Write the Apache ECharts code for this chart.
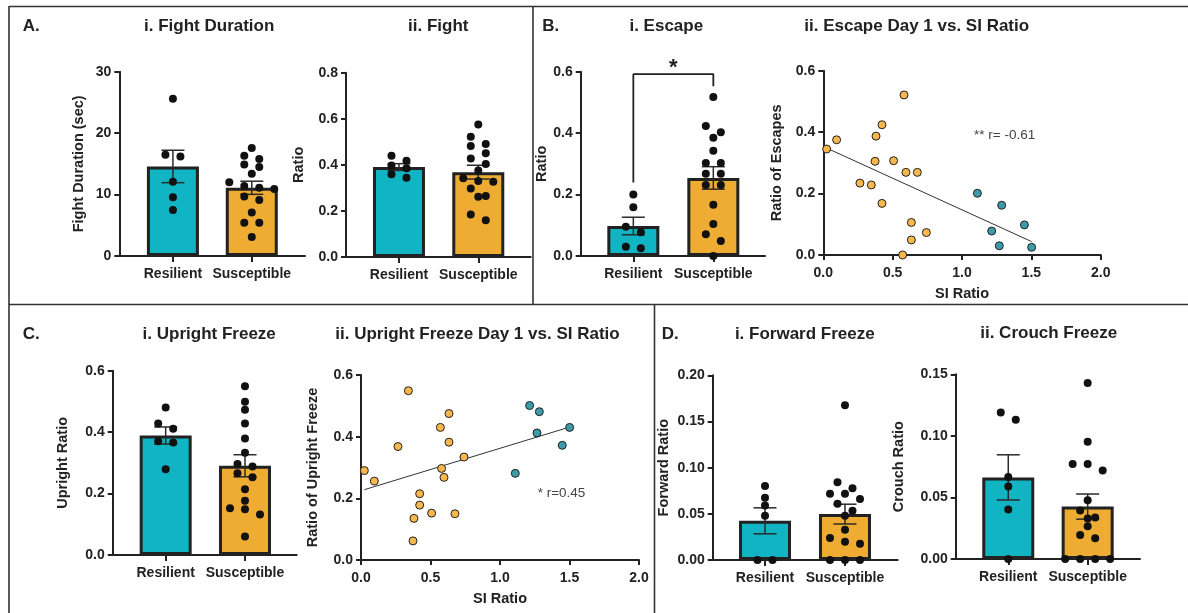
<!DOCTYPE html>
<html><head><meta charset="utf-8">
<script src="https://cdn.jsdelivr.net/npm/echarts@6/dist/echarts.min.js"></script>
<style>html,body{margin:0;padding:0;background:#fff}#c{width:1188px;height:613px}</style>
</head><body><div id="c"></div>
<script>
// ---------------- DATA ----------------
const groups = ['Resilient', 'Susceptible'];

const fightDurRes = [25.6, 16.5, 16.2, 12.1, 9.55, 7.5];
const fightDurSus = [17.6, 16.3, 15.8, 14.9, 14.5, 13.4, 12.0, 11.4, 11.1, 10.9, 9.7, 9.1, 7.1, 5.4, 5.4, 3.1];

const fightRes = [0.440, 0.418, 0.397, 0.385, 0.359, 0.344];
const fightSus = [0.575, 0.522, 0.491, 0.482, 0.450, 0.428, 0.404, 0.375, 0.342, 0.330, 0.327, 0.297, 0.265, 0.262, 0.184, 0.159];

const escapeRes = [0.200, 0.159, 0.095, 0.077, 0.030, 0.025];
const escapeSus = [0.518, 0.423, 0.403, 0.385, 0.343, 0.303, 0.303, 0.268, 0.268, 0.231, 0.231, 0.167, 0.104, 0.071, 0.049, 0.0];

const uprightRes = [0.480, 0.428, 0.411, 0.370, 0.366, 0.279];
const uprightSus = [0.549, 0.499, 0.473, 0.428, 0.379, 0.333, 0.296, 0.288, 0.266, 0.253, 0.214, 0.177, 0.152, 0.149, 0.132, 0.060];

const forwardRes = [0.080, 0.0675, 0.059, 0.048, 0, 0];
const forwardSus = [0.1675, 0.0841, 0.0776, 0.0718, 0.0718, 0.0661, 0.061, 0.0534, 0.048, 0.0328, 0.0238, 0.0198, 0.0177, 0, 0, 0];

const crouchRes = [0.119, 0.113, 0.0666, 0.0588, 0.0403, 0];
const crouchSus = [0.143, 0.0953, 0.0772, 0.0772, 0.0718, 0.0477, 0.0393, 0.0338, 0.0328, 0.0265, 0.0195, 0.0168, 0, 0, 0, 0];

// Escape Day 1 vs SI ratio
const escSiSus   = [0.024, 0.096, 0.582, 0.423, 0.380, 0.373, 0.507, 0.596, 0.678, 0.264, 0.346, 0.423, 0.635, 0.743, 0.635, 0.572];
const escDay1Sus = [0.345, 0.375, 0.521, 0.424, 0.387, 0.305, 0.307, 0.269, 0.269, 0.234, 0.228, 0.168, 0.106, 0.073, 0.049, 0.0];
const escSiRes   = [1.111, 1.286, 1.450, 1.214, 1.269, 1.502];
const escDay1Res = [0.201, 0.162, 0.098, 0.078, 0.030, 0.025];

// Upright Freeze Day 1 vs SI ratio
const upSiSus   = [0.024, 0.096, 0.341, 0.266, 0.571, 0.633, 0.633, 0.741, 0.580, 0.597, 0.422, 0.422, 0.381, 0.508, 0.676, 0.374];
const upDay1Sus = [0.290, 0.256, 0.549, 0.368, 0.430, 0.475, 0.382, 0.334, 0.297, 0.268, 0.215, 0.178, 0.135, 0.152, 0.150, 0.062];
const upSiRes   = [1.213, 1.283, 1.266, 1.501, 1.448, 1.110];
const upDay1Res = [0.501, 0.481, 0.412, 0.430, 0.372, 0.281];

// significance bracket (Escape): legs and top, in data units
const sigBracket = [[0, 0.239], [0, 0.592], [1, 0.592], [1, 0.553]];
const sigStar = [[0.5, 0.632, '*']];

// ---------------- STYLE ----------------
const FONT = "'Liberation Sans', Arial, Helvetica, sans-serif";
const INK = '#222';
const TEAL = '#10b4c3', ORANGE = '#efac33';
const TEAL_PT = '#3d9ba8', ORANGE_PT = '#f7b74c';

function mean(a) { return a.reduce((s, v) => s + v, 0) / a.length; }
function sem(a) { const m = mean(a); const v = a.reduce((s, x) => s + (x - m) * (x - m), 0) / (a.length - 1); return Math.sqrt(v / a.length); }
function linreg(xs, ys) {
  const mx = mean(xs), my = mean(ys);
  let sxy = 0, sxx = 0;
  xs.forEach((x, i) => { sxy += (x - mx) * (ys[i] - my); sxx += (x - mx) * (x - mx); });
  const b = sxy / sxx; return { b, a: my - b * mx };
}
// simple row-based beeswarm layout (pixel space)
function swarm(vals, center, yPx, xPx) {
  const idx = vals.map((v, i) => i).sort((a, b) => vals[b] - vals[a]);
  const rows = []; let cur = null;
  idx.forEach(i => {
    if (cur && (vals[cur[0]] - vals[i]) * yPx < 7.5) cur.push(i);
    else { cur = [i]; rows.push(cur); }
  });
  const out = [];
  rows.forEach(r => r.forEach((i, k) => {
    const off = (k - (r.length - 1) / 2) * 15;
    out.push([center + off / xPx, vals[i]]);
  }));
  return out;
}

const axisLine = { show: true, onZero: false, lineStyle: { color: INK, width: 2 } };
const tickStyle = { color: INK, width: 2 };
const labelBase = { color: INK, fontFamily: FONT, fontWeight: 'bold', fontSize: 14 };
const nameStyle = { color: INK, fontFamily: FONT, fontWeight: 'bold', fontSize: 14.5 };

const barPanels = [
  { L: 119.3, T: 71.7, R: 305, B: 256, xmin: -0.680, xmax: 1.675, ymax: 30, step: 10, dec: 0, name: 'Fight Duration (sec)', gap: 33, res: fightDurRes, sus: fightDurSus },
  { L: 346, T: 72.7, R: 530.7, B: 257, xmin: -0.668, xmax: 1.661, ymax: 0.8, step: 0.2, dec: 1, name: 'Ratio', gap: 39.4, res: fightRes, sus: fightSus },
  { L: 580.7, T: 71.7, R: 765, B: 256, xmin: -0.658, xmax: 1.646, ymax: 0.6, step: 0.2, dec: 1, name: 'Ratio', gap: 29.6, res: escapeRes, sus: escapeSus, sig: true },
  { L: 112.7, T: 370.7, R: 296.7, B: 555, xmin: -0.668, xmax: 1.652, ymax: 0.6, step: 0.2, dec: 1, name: 'Upright Ratio', gap: 42.4, res: uprightRes, sus: uprightSus },
  { L: 712.7, T: 375.3, R: 897.7, B: 560, xmin: -0.654, xmax: 1.659, ymax: 0.20, step: 0.05, dec: 2, name: 'Forward Ratio', gap: 41, res: forwardRes, sus: forwardSus },
  { L: 955.7, T: 374.3, R: 1140, B: 559, xmin: -0.662, xmax: 1.659, ymax: 0.15, step: 0.05, dec: 2, name: 'Crouch Ratio', gap: 49.4, res: crouchRes, sus: crouchSus }
];
const scatterPanels = [
  { L: 823.3, T: 70.7, R: 1100.7, B: 255, name: 'Ratio of Escapes', gap: 39, xs: [escSiSus, escSiRes], ys: [escDay1Sus, escDay1Res] },
  { L: 361, T: 375, R: 639, B: 560, name: 'Ratio of Upright Freeze', gap: 40.4, xs: [upSiSus, upSiRes], ys: [upDay1Sus, upDay1Res] }
];

const grid = [], xAxis = [], yAxis = [], series = [];

barPanels.forEach((p) => {
  const gi = grid.length;
  grid.push({ left: p.L, top: p.T, width: p.R - p.L, height: p.B - p.T, containLabel: false, outerBoundsMode: 'none' });
  xAxis.push({
    gridIndex: gi, type: 'value', min: p.xmin, max: p.xmax,
    axisLine, splitLine: { show: false },
    axisTick: { show: true, customValues: [0, 1], length: 6, lineStyle: tickStyle },
    axisLabel: Object.assign({ customValues: [0, 1], margin: 11, formatter: v => groups[Math.round(v)] }, labelBase)
  });
  yAxis.push({
    gridIndex: gi, type: 'value', min: 0, max: p.ymax, interval: p.step,
    axisLine, splitLine: { show: false },
    axisTick: { show: true, length: 5, lineStyle: tickStyle },
    axisLabel: Object.assign({ margin: 8, formatter: v => v.toFixed(p.dec) }, labelBase),
    name: p.name, nameLocation: 'middle', nameGap: p.gap, nameTextStyle: nameStyle
  });
  const xPx = (p.R - p.L) / (p.xmax - p.xmin);
  const yPx = (p.B - p.T) / p.ymax;
  const mR = mean(p.res), mS = mean(p.sus);
  series.push({
    type: 'bar', xAxisIndex: gi, yAxisIndex: gi, barWidth: 52, z: 2, silent: true,
    itemStyle: { borderColor: INK, borderWidth: 3 },
    data: [{ value: [0, mR], itemStyle: { color: TEAL } }, { value: [1, mS], itemStyle: { color: ORANGE } }]
  });
  series.push({
    type: 'custom', xAxisIndex: gi, yAxisIndex: gi, z: 3, silent: true,
    data: [[0, mR - sem(p.res), mR + sem(p.res)], [1, mS - sem(p.sus), mS + sem(p.sus)]],
    renderItem: (params, api) => {
      const x = api.value(0);
      const lo = api.coord([x, api.value(1)]), hi = api.coord([x, api.value(2)]);
      const w = 11.5, st = { stroke: '#2a2a2a', lineWidth: 1.5 };
      return { type: 'group', children: [
        { type: 'line', shape: { x1: lo[0], y1: lo[1], x2: hi[0], y2: hi[1] }, style: st },
        { type: 'line', shape: { x1: hi[0] - w, y1: hi[1], x2: hi[0] + w, y2: hi[1] }, style: st },
        { type: 'line', shape: { x1: lo[0] - w, y1: lo[1], x2: lo[0] + w, y2: lo[1] }, style: st }
      ] };
    }
  });
  series.push({
    type: 'scatter', xAxisIndex: gi, yAxisIndex: gi, z: 5, silent: true,
    symbolSize: 8, itemStyle: { color: '#111', opacity: 1 },
    data: swarm(p.res, 0, yPx, xPx).concat(swarm(p.sus, 1, yPx, xPx))
  });
  if (p.sig) {
    series.push({
      type: 'line', xAxisIndex: gi, yAxisIndex: gi, z: 4, silent: true, symbol: 'none',
      lineStyle: { color: INK, width: 1.8 },
      data: sigBracket
    });
    series.push({
      type: 'custom', xAxisIndex: gi, yAxisIndex: gi, z: 6, silent: true,
      data: sigStar,
      renderItem: (params, api) => {
        const c = api.coord([api.value(0), api.value(1)]);
        return { type: 'text', x: c[0], y: c[1] + 6, style: {
          text: sigStar[params.dataIndex][2], fill: INK, font: 'bold 22px ' + FONT,
          align: 'center', verticalAlign: 'middle', textAlign: 'center', textVerticalAlign: 'middle' } };
      }
    });
  }
});

scatterPanels.forEach((p) => {
  const gi = grid.length;
  grid.push({ left: p.L, top: p.T, width: p.R - p.L, height: p.B - p.T, containLabel: false, outerBoundsMode: 'none' });
  xAxis.push({
    gridIndex: gi, type: 'value', min: 0, max: 2, interval: 0.5,
    axisLine, splitLine: { show: false },
    axisTick: { show: true, length: 5, lineStyle: tickStyle },
    axisLabel: Object.assign({ margin: 11, formatter: v => v.toFixed(1) }, labelBase),
    name: 'SI Ratio', nameLocation: 'middle', nameGap: 31, nameTextStyle: nameStyle
  });
  yAxis.push({
    gridIndex: gi, type: 'value', min: 0, max: 0.6, interval: 0.2,
    axisLine, splitLine: { show: false },
    axisTick: { show: true, length: 5, lineStyle: tickStyle },
    axisLabel: Object.assign({ margin: 8, formatter: v => v.toFixed(1) }, labelBase),
    name: p.name, nameLocation: 'middle', nameGap: p.gap, nameTextStyle: nameStyle
  });
  const allX = p.xs[0].concat(p.xs[1]), allY = p.ys[0].concat(p.ys[1]);
  const lr = linreg(allX, allY);
  const x0 = Math.min(...allX), x1 = Math.max(...allX);
  series.push({
    type: 'line', xAxisIndex: gi, yAxisIndex: gi, z: 3, silent: true, symbol: 'none',
    lineStyle: { color: '#333', width: 1 },
    data: [[x0, lr.a + lr.b * x0], [x1, lr.a + lr.b * x1]]
  });
  [[ORANGE_PT, 0], [TEAL_PT, 1]].forEach(([col, k]) => {
    series.push({
      type: 'scatter', xAxisIndex: gi, yAxisIndex: gi, z: 4, silent: true,
      symbolSize: 8, itemStyle: { color: col, borderColor: '#222', borderWidth: 1, opacity: 1 },
      data: p.xs[k].map((x, i) => [x, p.ys[k][i]])
    });
  });
});

function txt(x, y, text, opt) {
  return { type: 'text', x, y, silent: true, style: Object.assign({
    text, fill: INK, font: 'bold 17px ' + FONT,
    align: 'center', verticalAlign: 'middle', textAlign: 'center', textVerticalAlign: 'middle'
  }, opt || {}) };
}
function ln(x1, y1, x2, y2) {
  return { type: 'line', silent: true, shape: { x1, y1, x2, y2 }, style: { stroke: '#333', lineWidth: 1.6 } };
}
const leftAlign = { align: 'left', textAlign: 'left' };

const graphic = [
  ln(9, 6.5, 1188, 6.5), ln(9, 6, 9, 613), ln(533, 6, 533, 304.5), ln(9, 304.5, 1188, 304.5), ln(654.5, 304.5, 654.5, 613),
  txt(22.7, 26.7, 'A.', leftAlign), txt(542.3, 26.7, 'B.', leftAlign), txt(22.7, 334.3, 'C.', leftAlign), txt(661.7, 334.3, 'D.', leftAlign),
  txt(209.2, 26.7, 'i. Fight Duration'), txt(438.3, 26.7, 'ii. Fight'),
  txt(666.3, 26.7, 'i. Escape'), txt(916.7, 26.7, 'ii. Escape Day 1 vs. SI Ratio'),
  txt(209.2, 334.3, 'i. Upright Freeze'), txt(477.5, 334.3, 'ii. Upright Freeze Day 1 vs. SI Ratio'),
  txt(804.8, 334.3, 'i. Forward Freeze'), txt(1048.7, 333.7, 'ii. Crouch Freeze'),
  txt(974, 135, '** r= -0.61', { align: 'left', textAlign: 'left', font: '13.5px ' + FONT, fill: '#444' }),
  txt(537.7, 493.7, '* r=0.45', { align: 'left', textAlign: 'left', font: '13.5px ' + FONT, fill: '#444' })
];

const chart = echarts.init(document.getElementById('c'), null, { renderer: 'canvas' });
chart.setOption({ animation: false, backgroundColor: '#fff', grid, xAxis, yAxis, series, graphic });
</script>
</body></html>
